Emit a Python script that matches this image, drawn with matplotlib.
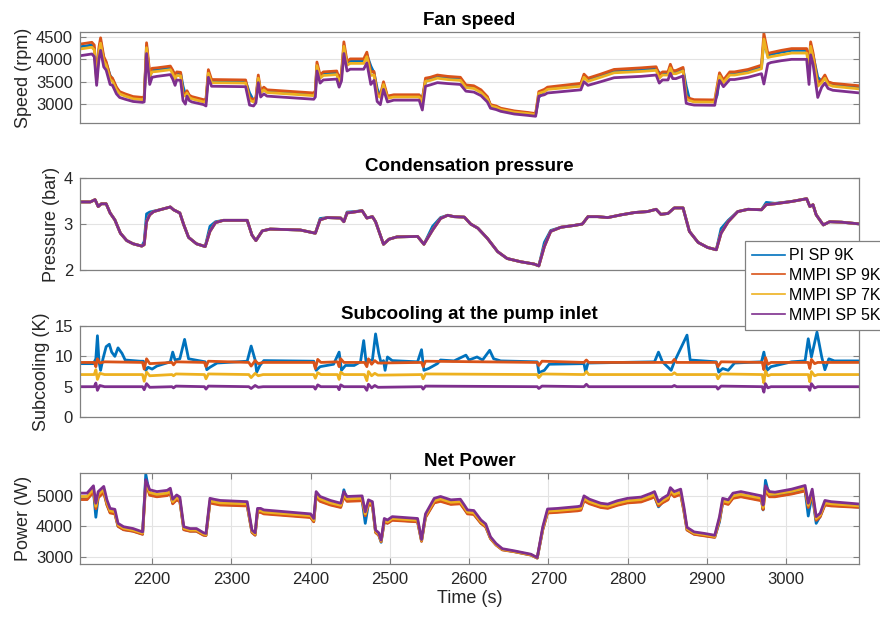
import matplotlib
matplotlib.use("Agg")
import matplotlib.pyplot as plt
from matplotlib.lines import Line2D

plt.rcParams['font.family'] = ['Liberation Sans', 'DejaVu Sans']

# ---- series names / colours (MATLAB default order) ----
labels = ["PI SP 9K", "MMPI SP 9K", "MMPI SP 7K", "MMPI SP 5K"]
colors = ["#0072BD", "#D95319", "#EDB120", "#7E2F8E"]

# ---- Fan speed (rpm) ----
fan_t = [2109, 2124, 2127, 2130, 2133, 2135, 2139, 2142, 2147, 2150,
         2155, 2159, 2166, 2176, 2188, 2190, 2193, 2197, 2200, 2206,
         2219, 2223, 2226, 2229, 2231, 2236, 2239, 2242, 2244, 2247,
         2250, 2265, 2268, 2271, 2275, 2318, 2323, 2328, 2331, 2334,
         2337, 2341, 2345, 2404, 2406, 2408, 2412, 2416, 2433, 2436,
         2439, 2442, 2446, 2450, 2467, 2471, 2476, 2480, 2484, 2488,
         2492, 2497, 2505, 2537, 2541, 2545, 2551, 2560, 2573, 2589,
         2596, 2606, 2615, 2623, 2627, 2634, 2640, 2657, 2674, 2684,
         2688, 2695, 2699, 2741, 2745, 2750, 2766, 2783, 2817, 2836,
         2840, 2844, 2851, 2854, 2857, 2861, 2870, 2874, 2878, 2884,
         2910, 2913, 2916, 2921, 2929, 2935, 2952, 2969, 2972, 2977,
         2981, 2994, 3007, 3026, 3029, 3031, 3034, 3040, 3045, 3049,
         3053, 3059, 3093]
fan_pi9 = [4280, 4320, 4260, 3600, 4220, 4400, 4020, 3920, 3640, 3560,
           3360, 3260, 3200, 3140, 3120, 3130, 4300, 3600, 3760, 3770,
           3800, 3810, 3740, 3650, 3690, 3690, 3400, 3220, 3270, 3180,
           3150, 3080, 3090, 3650, 3520, 3510, 3250, 3080, 3120, 3580,
           3280, 3350, 3290, 3220, 3270, 3850, 3600, 3680, 3700, 3600,
           3660, 4300, 3910, 3970, 3970, 4100, 3850, 3700, 3350, 3170,
           3440, 3160, 3190, 3190, 3130, 3500, 3570, 3610, 3590, 3570,
           3400, 3380, 3290, 3150, 2970, 2940, 2890, 2835, 2800, 2780,
           3150, 3300, 3350, 3430, 3620, 3550, 3630, 3735, 3770, 3795,
           3700, 3680, 3680, 3840, 3710, 3710, 3780, 3400, 3110, 3080,
           3075, 3200, 3600, 3510, 3680, 3680, 3735, 3830, 4400, 4090,
           4110, 4160, 4200, 4200, 4000, 4300, 4100, 3600, 3510, 3610,
           3470, 3435, 3380]
fan_mmpi9 = [4340, 4380, 4320, 3560, 4280, 4480, 4060, 3950, 3620, 3580,
             3380, 3280, 3230, 3170, 3150, 3160, 4370, 3700, 3800, 3810,
             3840, 3850, 3760, 3620, 3720, 3710, 3250, 3230, 3300, 3200,
             3170, 3100, 3110, 3770, 3550, 3540, 3140, 3100, 3150, 3650,
             3300, 3380, 3320, 3250, 3300, 3940, 3650, 3720, 3740, 3560,
             3700, 4390, 3950, 4010, 4010, 4160, 3720, 3730, 3250, 3200,
             3500, 3180, 3210, 3210, 3100, 3580, 3600, 3650, 3620, 3600,
             3430, 3410, 3320, 3170, 2990, 2960, 2910, 2850, 2815, 2790,
             3280, 3330, 3380, 3465, 3670, 3580, 3670, 3775, 3810, 3835,
             3650, 3720, 3720, 3890, 3750, 3750, 3820, 3170, 3130, 3100,
             3095, 3400, 3700, 3540, 3720, 3720, 3775, 3870, 4580, 4130,
             4150, 4200, 4240, 4240, 3900, 4390, 4150, 3465, 3540, 3650,
             3500, 3465, 3410]
fan_mmpi7 = [4230, 4270, 4210, 3500, 4170, 4360, 3960, 3870, 3550, 3510,
             3320, 3230, 3180, 3120, 3100, 3110, 4260, 3620, 3720, 3730,
             3760, 3770, 3680, 3550, 3640, 3630, 3200, 3180, 3250, 3150,
             3120, 3050, 3060, 3690, 3480, 3470, 3090, 3050, 3100, 3580,
             3250, 3320, 3260, 3190, 3240, 3860, 3580, 3640, 3660, 3490,
             3620, 4290, 3870, 3910, 3910, 4060, 3640, 3650, 3200, 3150,
             3440, 3130, 3160, 3160, 3050, 3510, 3530, 3580, 3550, 3530,
             3370, 3350, 3260, 3120, 2960, 2930, 2880, 2820, 2790, 2765,
             3240, 3280, 3330, 3400, 3600, 3510, 3600, 3700, 3730, 3755,
             3580, 3650, 3650, 3810, 3680, 3680, 3740, 3120, 3080, 3050,
             3045, 3350, 3630, 3480, 3650, 3650, 3700, 3790, 4450, 4040,
             4060, 4100, 4140, 4140, 3820, 4290, 4050, 3400, 3480, 3580,
             3440, 3400, 3340]
fan_mmpi5 = [4080, 4120, 4060, 3420, 4020, 4200, 3830, 3760, 3440, 3420,
             3230, 3150, 3110, 3060, 3040, 3050, 4130, 3440, 3600, 3620,
             3650, 3660, 3560, 3420, 3540, 3530, 3080, 3000, 3180, 3080,
             3050, 2990, 2960, 3600, 3400, 3390, 2980, 2960, 3030, 3480,
             3160, 3230, 3180, 3110, 3160, 3740, 3470, 3540, 3560, 3380,
             3520, 4130, 3740, 3780, 3780, 3920, 3440, 3530, 3060, 2990,
             3330, 3050, 3090, 3090, 2870, 3400, 3430, 3480, 3460, 3440,
             3290, 3270, 3190, 3050, 2910, 2880, 2840, 2780, 2750, 2730,
             3180, 3210, 3250, 3320, 3500, 3420, 3500, 3590, 3620, 3650,
             3470, 3540, 3540, 3690, 3570, 3570, 3630, 3020, 3000, 2980,
             2975, 3260, 3530, 3390, 3550, 3550, 3600, 3680, 3450, 3900,
             3930, 3970, 4000, 4000, 3440, 4100, 3900, 3150, 3380, 3470,
             3350, 3310, 3250]

# ---- Condensation pressure (bar) ----
pres_t = [2109, 2122, 2128, 2132, 2136, 2142, 2147, 2153, 2160, 2168,
          2176, 2187, 2190, 2193, 2197, 2202, 2210, 2223, 2227, 2235,
          2240, 2246, 2256, 2267, 2273, 2280, 2290, 2320, 2326, 2331,
          2339, 2349, 2387, 2406, 2412, 2421, 2438, 2442, 2446, 2455,
          2465, 2471, 2478, 2482, 2492, 2499, 2509, 2535, 2543, 2554,
          2564, 2573, 2581, 2594, 2602, 2611, 2623, 2636, 2648, 2665,
          2682, 2688, 2695, 2703, 2716, 2733, 2743, 2750, 2762, 2775,
          2792, 2809, 2825, 2836, 2842, 2851, 2859, 2870, 2878, 2889,
          2901, 2912, 2918, 2927, 2939, 2952, 2969, 2975, 2986, 3007,
          3026, 3030, 3034, 3038, 3047, 3055, 3070, 3094]
pres_pi9 = [3.48, 3.48, 3.53, 3.38, 3.44, 3.44, 3.24, 3.09, 2.80, 2.64,
            2.57, 2.52, 2.62, 3.22, 3.26, 3.28, 3.31, 3.37, 3.31, 3.24,
            2.98, 2.71, 2.57, 2.51, 2.95, 3.05, 3.08, 3.08, 2.76, 2.64,
            2.85, 2.89, 2.87, 2.80, 3.12, 3.14, 3.13, 3.05, 3.26, 3.27,
            3.29, 3.13, 3.16, 3.05, 2.56, 2.67, 2.72, 2.73, 2.56, 2.95,
            3.14, 3.19, 3.16, 3.15, 3.00, 2.91, 2.69, 2.40, 2.25, 2.18,
            2.13, 2.09, 2.60, 2.86, 2.93, 2.97, 3.00, 3.16, 3.16, 3.14,
            3.20, 3.25, 3.27, 3.32, 3.21, 3.23, 3.35, 3.35, 2.84, 2.60,
            2.49, 2.44, 2.90, 3.08, 3.27, 3.32, 3.31, 3.47, 3.45, 3.49,
            3.55, 3.38, 3.42, 3.20, 2.98, 3.05, 3.04, 3.00]
# the three MMPI runs overlap completely at this scale
pres_mmpi = [3.48, 3.48, 3.53, 3.38, 3.44, 3.44, 3.24, 3.09, 2.80, 2.64,
             2.57, 2.52, 2.55, 3.05, 3.20, 3.27, 3.31, 3.37, 3.31, 3.24,
             2.98, 2.71, 2.57, 2.51, 2.84, 3.03, 3.08, 3.08, 2.76, 2.64,
             2.85, 2.89, 2.87, 2.80, 3.09, 3.14, 3.13, 3.05, 3.24, 3.26,
             3.29, 3.13, 3.16, 3.05, 2.56, 2.67, 2.72, 2.73, 2.56, 2.87,
             3.12, 3.19, 3.16, 3.15, 3.00, 2.91, 2.69, 2.40, 2.25, 2.18,
             2.13, 2.09, 2.51, 2.84, 2.93, 2.97, 3.00, 3.16, 3.16, 3.14,
             3.20, 3.25, 3.27, 3.32, 3.21, 3.23, 3.35, 3.35, 2.84, 2.60,
             2.49, 2.44, 2.80, 3.05, 3.27, 3.32, 3.31, 3.42, 3.44, 3.49,
             3.55, 3.38, 3.42, 3.20, 2.98, 3.05, 3.04, 3.00]

# ---- Subcooling at the pump inlet (K) ----
sub_pi_t = [2109, 2126, 2129, 2131, 2133, 2135, 2138, 2142, 2146, 2149,
            2153, 2157, 2162, 2166, 2185, 2189, 2192, 2195, 2200, 2206,
            2223, 2226, 2229, 2235, 2241, 2246, 2267, 2269, 2273, 2282,
            2320, 2325, 2330, 2332, 2336, 2341, 2404, 2407, 2412, 2429,
            2436, 2439, 2444, 2455, 2463, 2467, 2470, 2473, 2478, 2482,
            2486, 2489, 2492, 2494, 2497, 2503, 2535, 2540, 2543, 2549,
            2560, 2564, 2581, 2596, 2600, 2610, 2617, 2626, 2631, 2640,
            2686, 2688, 2695, 2701, 2745, 2747, 2750, 2834, 2839, 2844,
            2855, 2859, 2875, 2879, 2912, 2915, 2920, 2927, 2935, 2969,
            2972, 2976, 2981, 3007, 3024, 3028, 3032, 3039, 3045, 3049,
            3054, 3061, 3094]
sub_pi9 = [8.8, 8.8, 9.6, 13.4, 9.1, 7.7, 9.6, 11.6, 12.0, 10.7,
           10.0, 11.4, 10.5, 9.4, 9.2, 9.2, 7.7, 8.2, 7.9, 8.4,
           9.1, 10.7, 9.4, 9.6, 12.8, 9.6, 9.1, 7.8, 8.2, 8.9,
           9.2, 11.7, 9.4, 7.4, 8.5, 9.3, 9.2, 7.7, 8.3, 8.7,
           10.7, 7.7, 8.5, 8.5, 9.1, 12.6, 9.1, 9.3, 9.4, 13.7,
           10.5, 8.9, 9.3, 7.7, 9.9, 9.3, 9.1, 11.1, 7.7, 8.0,
           8.8, 9.4, 9.25, 10.2, 9.4, 9.9, 9.4, 11.0, 9.6, 9.25,
           9.1, 7.3, 7.7, 8.7, 8.8, 7.4, 8.9, 9.1, 10.7, 9.1,
           7.7, 9.1, 13.5, 9.4, 9.1, 7.4, 8.0, 7.7, 8.9, 9.1,
           10.7, 7.7, 8.3, 9.1, 9.25, 12.9, 9.9, 14.0, 9.9, 7.8,
           9.6, 9.25, 9.25]
sub_mmpi_t = [2109, 2127, 2129, 2131, 2134, 2140, 2188, 2190, 2193, 2197,
              2225, 2227, 2230, 2266, 2268, 2271, 2322, 2325, 2330, 2334,
              2340, 2404, 2406, 2409, 2413, 2434, 2436, 2438, 2442, 2468,
              2471, 2473, 2477, 2481, 2485, 2540, 2542, 2545, 2686, 2688,
              2692, 2745, 2748, 2751, 2856, 2859, 2862, 2912, 2914, 2918,
              2970, 2972, 2974, 2977, 2981, 3028, 3030, 3032, 3036, 3040,
              3094]
sub_mmpi9 = [9.0, 9.0, 8.3, 9.6, 8.9, 9.1, 9.0, 7.9, 9.6, 8.8,
             9.0, 8.6, 9.1, 9.0, 8.3, 9.2, 9.0, 8.4, 9.3, 8.8,
             9.0, 9.0, 8.0, 9.5, 9.0, 9.1, 8.3, 9.6, 9.0, 9.0,
             8.3, 9.6, 8.7, 9.3, 8.9, 9.0, 8.3, 9.2, 9.0, 8.5,
             9.2, 9.0, 9.4, 9.0, 9.0, 9.5, 9.0, 9.0, 8.3, 9.1,
             9.0, 7.8, 9.8, 8.7, 9.0, 9.0, 8.0, 9.5, 8.8, 9.0,
             9.0]
sub_mmpi7 = [7.0, 7.0, 7.8, 6.2, 7.2, 7.0, 7.0, 5.9, 7.4, 6.8,
             7.0, 6.8, 7.1, 7.0, 6.3, 7.1, 7.0, 6.5, 7.2, 6.8,
             7.0, 7.0, 6.4, 7.3, 7.0, 7.0, 6.2, 7.4, 7.0, 7.0,
             6.0, 7.5, 6.8, 7.2, 6.9, 7.0, 6.3, 7.1, 7.0, 6.5,
             7.1, 7.0, 7.5, 7.0, 7.0, 7.3, 7.0, 7.0, 6.3, 7.1,
             7.0, 5.6, 7.6, 6.8, 7.0, 7.0, 5.8, 7.5, 6.8, 7.0,
             7.0]
sub_mmpi5 = [5.0, 5.0, 5.6, 4.4, 5.2, 5.0, 5.0, 4.5, 5.5, 4.9,
             5.0, 4.8, 5.1, 5.0, 4.6, 5.1, 5.0, 4.7, 5.2, 4.9,
             5.0, 5.0, 4.6, 5.3, 5.0, 5.0, 4.5, 5.3, 5.0, 5.0,
             4.4, 5.4, 4.8, 5.2, 4.9, 5.0, 4.6, 5.1, 5.0, 4.7,
             5.1, 5.0, 5.4, 5.0, 5.0, 5.2, 5.0, 5.0, 4.6, 5.1,
             5.0, 4.1, 5.5, 4.8, 5.0, 5.0, 4.4, 5.5, 4.8, 5.0,
             5.0]

# ---- Net power (W) ----
pow_t = [2109, 2118, 2126, 2129, 2132, 2139, 2143, 2147, 2153, 2157,
         2164, 2176, 2188, 2192, 2197, 2206, 2219, 2223, 2226, 2231,
         2235, 2240, 2248, 2256, 2265, 2268, 2273, 2278, 2286, 2320,
         2326, 2330, 2333, 2337, 2341, 2400, 2404, 2407, 2412, 2425,
         2438, 2442, 2446, 2465, 2469, 2473, 2478, 2482, 2486, 2489,
         2493, 2497, 2503, 2535, 2540, 2545, 2556, 2564, 2577, 2589,
         2594, 2598, 2606, 2615, 2621, 2627, 2634, 2642, 2657, 2678,
         2686, 2693, 2699, 2712, 2737, 2741, 2745, 2752, 2766, 2775,
         2787, 2800, 2817, 2830, 2834, 2839, 2844, 2851, 2854, 2859,
         2867, 2871, 2875, 2884, 2897, 2910, 2916, 2920, 2927, 2933,
         2943, 2969, 2971, 2974, 2979, 2986, 3007, 3024, 3028, 3033,
         3038, 3043, 3049, 3057, 3094]
pow_pi9 = [4900, 4900, 5150, 4300, 4960, 5130, 4720, 4460, 4430, 4010,
           3900, 3850, 3750, 5710, 5040, 4990, 5030, 5100, 4760, 4890,
           4830, 3900, 3850, 3850, 3720, 3710, 4790, 4760, 4720, 4690,
           3810, 3720, 4480, 4480, 4430, 4310, 4160, 4990, 4840, 4720,
           4640, 5200, 4840, 4860, 4100, 4740, 4690, 3810, 3720, 3480,
           4160, 4110, 4220, 4160, 3520, 4310, 4790, 4840, 4740, 4760,
           4580, 4430, 4410, 4110, 3990, 3610, 3400, 3240, 3175, 3065,
           2965, 3900, 4460, 4480, 4530, 4550, 4860, 4760, 4640, 4610,
           4710, 4790, 4820, 4940, 4990, 4640, 4790, 4890, 5120, 4990,
           5070, 4530, 3890, 3750, 3700, 3650, 4150, 4790, 4740, 4940,
           4990, 4860, 4540, 5510, 4990, 4990, 5080, 5180, 4340, 5070,
           4100, 4330, 4720, 4690, 4630]
pow_mmpi9 = [4880, 4880, 5130, 4580, 4940, 5110, 4700, 4440, 4410, 4000,
             3890, 3840, 3740, 5400, 5020, 4970, 5010, 5080, 4740, 4870,
             4810, 3890, 3840, 3840, 3710, 3700, 4770, 4740, 4700, 4670,
             3800, 3710, 4460, 4460, 4410, 4290, 4150, 4970, 4820, 4700,
             4620, 4970, 4820, 4840, 4350, 4720, 4670, 3800, 3710, 3500,
             4150, 4100, 4200, 4150, 3510, 4290, 4770, 4820, 4720, 4740,
             4560, 4410, 4390, 4100, 3980, 3600, 3390, 3230, 3170, 3060,
             2960, 3890, 4440, 4460, 4510, 4530, 4840, 4740, 4620, 4590,
             4690, 4770, 4800, 4920, 4970, 4670, 4770, 4870, 5100, 4970,
             5050, 4510, 3880, 3740, 3690, 3640, 4200, 4770, 4720, 4920,
             4970, 4840, 4550, 5150, 4970, 4970, 5060, 5160, 4620, 5050,
             4200, 4310, 4700, 4670, 4620]
pow_mmpi7 = [4980, 4980, 5230, 4660, 5040, 5210, 4780, 4510, 4480, 4050,
             3940, 3880, 3780, 5450, 5110, 5050, 5090, 5160, 4810, 4950,
             4880, 3940, 3880, 3880, 3750, 3730, 4840, 4810, 4770, 4740,
             3840, 3750, 4520, 4520, 4470, 4350, 4200, 5050, 4900, 4770,
             4690, 5050, 4900, 4920, 4410, 4790, 4740, 3840, 3750, 3520,
             4200, 4150, 4260, 4200, 3540, 4350, 4840, 4900, 4790, 4810,
             4630, 4470, 4450, 4150, 4030, 3630, 3410, 3250, 3180, 3075,
             2970, 3940, 4500, 4520, 4580, 4600, 4920, 4810, 4690, 4660,
             4760, 4840, 4880, 5000, 5050, 4740, 4840, 4950, 5180, 5050,
             5130, 4580, 3920, 3780, 3730, 3670, 4260, 4840, 4790, 5000,
             5050, 4920, 4620, 5240, 5050, 5060, 5150, 5260, 4690, 5130,
             4260, 4370, 4770, 4740, 4670]
pow_mmpi5 = [5090, 5090, 5330, 4760, 5140, 5310, 4870, 4590, 4560, 4100,
             3990, 3930, 3820, 5530, 5200, 5140, 5180, 5250, 4890, 5030,
             4960, 3990, 3930, 3930, 3790, 3770, 4920, 4890, 4850, 4810,
             3880, 3790, 4590, 4590, 4540, 4410, 4260, 5140, 4980, 4850,
             4760, 5140, 4980, 5000, 4480, 4870, 4810, 3880, 3790, 3550,
             4260, 4210, 4320, 4260, 3570, 4410, 4920, 4980, 4870, 4890,
             4700, 4540, 4520, 4210, 4080, 3660, 3440, 3270, 3200, 3090,
             2980, 3990, 4570, 4590, 4650, 4670, 5000, 4890, 4760, 4730,
             4840, 4920, 4960, 5090, 5140, 4810, 4920, 5030, 5270, 5140,
             5220, 4650, 3970, 3820, 3770, 3710, 4320, 4920, 4870, 5090,
             5140, 5000, 4700, 5330, 5140, 5120, 5220, 5340, 4760, 5220,
             4320, 4430, 4850, 4810, 4730]

x_ticks = [2200, 2300, 2400, 2500, 2600, 2700, 2800, 2900, 3000]

fig = plt.figure(figsize=(8.8, 6.19), dpi=100)

spine_col = "#808080"
text_col = "#262626"
grid_col = "#e3e3e3"
lw = 2.0

panels = [
    ("Fan speed", "Speed (rpm)", [0.0909, 0.8013, 0.8852, 0.147],
     (2580, 4610), [3000, 3500, 4000, 4500],
     [(fan_t, fan_pi9), (fan_t, fan_mmpi9), (fan_t, fan_mmpi7), (fan_t, fan_mmpi5)]),
    ("Condensation pressure", "Pressure (bar)", [0.0909, 0.5638, 0.8852, 0.1486],
     (2, 4), [2, 3, 4],
     [(pres_t, pres_pi9), (pres_t, pres_mmpi), (pres_t, pres_mmpi), (pres_t, pres_mmpi)]),
    ("Subcooling at the pump inlet", "Subcooling (K)", [0.0909, 0.3263, 0.8852, 0.147],
     (0, 15), [0, 5, 10, 15],
     [(sub_pi_t, sub_pi9), (sub_mmpi_t, sub_mmpi9), (sub_mmpi_t, sub_mmpi7), (sub_mmpi_t, sub_mmpi5)]),
    ("Net Power", "Power (W)", [0.0909, 0.0889, 0.8852, 0.147],
     (2770, 5750), [3000, 4000, 5000],
     [(pow_t, pow_pi9), (pow_t, pow_mmpi9), (pow_t, pow_mmpi7), (pow_t, pow_mmpi5)]),
]

for i, (title, ylabel, pos, ylim, yticks, series) in enumerate(panels):
    ax = fig.add_axes(pos)
    for (t, v), c in zip(series, colors):
        ax.plot(t, v, color=c, lw=lw, solid_joinstyle="round")
    ax.set_xlim(2109, 3092)
    ax.set_ylim(*ylim)
    ax.set_yticks(yticks)
    ax.set_title(title, fontsize=13.5, fontweight="bold", pad=5, color="black")
    ax.set_ylabel(ylabel, fontsize=13, color=text_col, labelpad=3)
    for s in ax.spines.values():
        s.set_color(spine_col)
        s.set_linewidth(0.9)
    ax.tick_params(axis="y", direction="in", right=True, length=4,
                   color=spine_col, labelsize=12, labelcolor=text_col, pad=5)
    ax.grid(True, axis="y", color=grid_col, lw=0.8)
    ax.set_axisbelow(True)
    if i < 3:
        ax.set_xticks([])
    else:
        ax.set_xticks(x_ticks)
        ax.grid(True, axis="x", color=grid_col, lw=0.8)
        ax.tick_params(axis="x", direction="in", top=True, length=4,
                       color=spine_col, labelsize=12, labelcolor=text_col, pad=6)
        ax.set_xlabel("Time (s)", fontsize=13, color=text_col, labelpad=2)

handles = [Line2D([], [], color=c, lw=1.2) for c in colors]
leg = fig.legend(handles, labels, loc="upper left", bbox_to_anchor=(0.8466, 0.6107),
                 frameon=True, fancybox=False, edgecolor=spine_col, framealpha=1,
                 fontsize=11.5, handlelength=2.05, handletextpad=0.25,
                 borderpad=0.45, labelspacing=0.3, borderaxespad=0)
leg.get_frame().set_linewidth(0.9)

fig.savefig("out.png", dpi=100)
